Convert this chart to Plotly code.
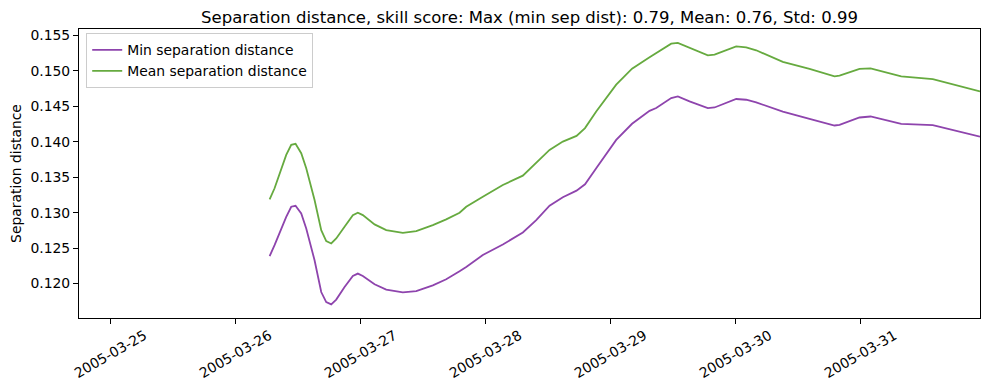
import pandas as pd
import plotly.graph_objects as go

# hours after 2005-03-26 00:00
hours = [6.6, 7.55, 9.79, 10.75, 11.58, 12.67, 13.63, 15.23, 16.51, 17.47, 18.43, 19.39,
         20.99, 22.58, 23.54, 24.50, 26.75, 28.99, 32.18, 34.75, 37.94, 40.51, 43.07,
         44.35, 47.54, 51.38, 55.22, 57.79, 60.35, 62.90, 65.53, 67.16, 69.31, 73.15,
         76.19, 79.55, 80.83, 83.71, 84.98, 87.23, 90.74, 92.03, 96.19, 98.11, 100.03,
         105.14, 110.27, 115.07, 116.03, 119.87, 121.98, 127.87, 133.94, 143.0]

min_sep = [0.12386, 0.12541, 0.12941, 0.13083, 0.13097, 0.12989, 0.12777, 0.12329,
           0.11881, 0.11740, 0.11707, 0.11774, 0.11952, 0.12107, 0.12141, 0.12107,
           0.11990, 0.11915, 0.11877, 0.11895, 0.11976, 0.12061, 0.12174, 0.12235,
           0.12404, 0.12550, 0.12721, 0.12895, 0.13097, 0.13216, 0.13310, 0.13399,
           0.13625, 0.14025, 0.14252, 0.14435, 0.14474, 0.14615, 0.14637, 0.14567,
           0.14474, 0.14482, 0.14601, 0.14591, 0.14553, 0.14425, 0.14322, 0.14228,
           0.14237, 0.14341, 0.14355, 0.14252, 0.14233, 0.14072]

mean_sep = [0.13187, 0.13343, 0.13813, 0.13955, 0.13969, 0.13837, 0.13625, 0.13177,
            0.12753, 0.12598, 0.12565, 0.12636, 0.12800, 0.12965, 0.12998, 0.12965,
            0.12834, 0.12753, 0.12715, 0.12739, 0.12824, 0.12905, 0.12998, 0.13083,
            0.13224, 0.13389, 0.13521, 0.13696, 0.13884, 0.14001, 0.14082, 0.14191,
            0.14425, 0.14803, 0.15029, 0.15189, 0.15251, 0.15382, 0.15392, 0.15322,
            0.15217, 0.15227, 0.15344, 0.15330, 0.15288, 0.15124, 0.15025, 0.14920,
            0.14930, 0.15025, 0.15033, 0.14920, 0.14883, 0.14708]

tick_labels = ["2005-03-25", "2005-03-26", "2005-03-27", "2005-03-28",
               "2005-03-29", "2005-03-30", "2005-03-31"]
y_ticks = [0.120, 0.125, 0.130, 0.135, 0.140, 0.145, 0.150, 0.155]

base = pd.Timestamp("2005-03-26 00:00")
times = [base + pd.Timedelta(hours=h) for h in hours]

FONT = "DejaVu Sans"
FS = 13.9
W, H = 989, 390
OFF = 8  # page body offset
L, R, T, B = 79 - OFF, 9 + OFF, 29 - OFF, 72 + OFF
plot_h = H - T - B

fig = go.Figure()
fig.add_trace(go.Scatter(x=times, y=min_sep, mode="lines", name="Min separation distance",
                         line=dict(color="#8e44ad", width=1.8)))
fig.add_trace(go.Scatter(x=times, y=mean_sep, mode="lines", name="Mean separation distance",
                         line=dict(color="#66aa3f", width=1.8)))

for lab in tick_labels:
    fig.add_annotation(x=lab, xref="x", y=-36 / plot_h, yref="paper", text=lab,
                       showarrow=False, textangle=-30, xanchor="center", yanchor="middle",
                       font=dict(family=FONT, size=FS, color="black"))

fig.update_layout(
    width=W, height=H,
    margin=dict(l=L, r=R, t=T, b=B, autoexpand=False),
    paper_bgcolor="white", plot_bgcolor="white",
    font=dict(family=FONT, size=FS, color="black"),
    title=dict(text="Separation distance, skill score: Max (min sep dist): 0.79, Mean: 0.76, Std: 0.99",
               x=(L + W - R) / 2 / W, xanchor="center", y=1 - (17.5 - OFF) / H, yanchor="middle",
               font=dict(family=FONT, size=16.5, color="black")),
    xaxis=dict(type="date", range=["2005-03-24 18:00", "2005-03-31 23:00"],
               tickvals=tick_labels, showticklabels=False, automargin=False,
               ticks="outside", ticklen=5, tickcolor="black", tickwidth=1,
               showline=True, linecolor="black", linewidth=1, mirror=True,
               showgrid=False, zeroline=False),
    yaxis=dict(range=[0.11515, 0.15588], tickvals=y_ticks, tickformat=".3f",
               automargin=False,
               ticks="outside", ticklen=5, tickcolor="black", tickwidth=1,
               showline=True, linecolor="black", linewidth=1, mirror=True,
               showgrid=False, zeroline=False,
               title=dict(text="Separation distance", standoff=6,
                          font=dict(family=FONT, size=FS))),
    legend=dict(x=0.008, y=0.985, xanchor="left", yanchor="top",
                bgcolor="rgba(255,255,255,0.8)", bordercolor="#cccccc", borderwidth=1,
                font=dict(family=FONT, size=FS), itemwidth=30,
                tracegroupgap=0),
    showlegend=True,
)

fig.write_html("out.html")
